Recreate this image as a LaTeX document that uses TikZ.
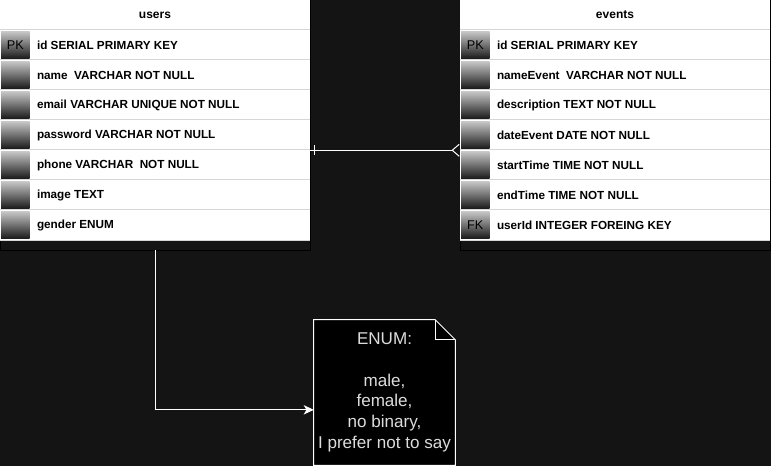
\documentclass[tikz,border=0pt]{standalone}
\usepackage{fontspec}
\setmainfont{Liberation Sans}
\usepackage{tikz}
\usetikzlibrary{arrows.meta, positioning, calc, backgrounds}
\definecolor{canvas}{HTML}{141414}
\definecolor{rowline}{HTML}{D6D6D6}
\definecolor{notetext}{HTML}{DCDCDC}
\tikzstyle{tablebox} = [
    rectangle,
    minimum width = 232.5pt,
    minimum height = 187.5pt,
    draw = black,
    fill = canvas,
]
\tikzstyle{headcell} = [
    rectangle,
    minimum width = 232.5pt,
    minimum height = 22.5pt,
    fill = white,
    text = black,
    font = \fontsize{9}{11}\selectfont\bfseries,
]
\tikzstyle{rowcell} = [
    rectangle,
    minimum width = 232.5pt,
    minimum height = 22.5pt,
    inner sep = 0pt,
    fill = white,
]
\tikzstyle{fieldtext} = [
    anchor = west,
    inner sep = 0pt,
    text = black,
    font = \fontsize{8.8}{11}\selectfont\bfseries,
]
\tikzstyle{keyicon} = [
    rectangle,
    minimum width = 21.5pt,
    minimum height = 20.5pt,
    inner sep = 0pt,
    top color = black!22,
    bottom color = black!90,
    text = black,
    font = \fontsize{9.5}{11}\selectfont,
]
\tikzstyle{sepline} = [draw = rowline, line width = 0.75pt]
\tikzstyle{link} = [draw = white, line width = 0.75pt]
\tikzstyle{notebox} = [
    rectangle,
    minimum width = 105.75pt,
    minimum height = 108.75pt,
    inner xsep = 0.5pt,
    text = notetext,
    align = center,
    font = \fontsize{12.8}{15.5}\selectfont,
]

\begin{document}
\begin{tikzpicture}[x = 0.75pt, y = -0.75pt]
    \begin{pgfonlayer}{background}
        \fill[canvas] (0,0) rectangle (771,466);
    \end{pgfonlayer}
    \useasboundingbox (0,0) rectangle (771,466);

    % users
    \node (users) [tablebox] at (155,125) {};
    \node (users-head) [headcell] at (155,15) {users};
    \foreach \i/\field/\key in {
        1/{id SERIAL PRIMARY KEY}/PK,
        2/{name~ VARCHAR NOT NULL}/{},
        3/{email VARCHAR UNIQUE NOT NULL}/{},
        4/{password VARCHAR NOT NULL}/{},
        5/{phone VARCHAR~ NOT NULL}/{},
        6/{image TEXT}/{},
        7/{gender ENUM}/{}} {
        \node (u\i) [rowcell] at (155,15+30*\i) {};
        \draw[sepline] (u\i.north west) -- (u\i.north east);
        \node (u\i-key) [keyicon, right = 0.75pt of u\i.west] {\key};
        \node (u\i-txt) [fieldtext] at ([xshift = 27.75pt]u\i.west) {\field};
    }
    \draw[sepline] (u7.south west) -- (u7.south east);

    % events
    \node (events) [tablebox] at (615,125) {};
    \node (events-head) [headcell] at (615,15) {events};
    \foreach \i/\field/\key in {
        1/{id SERIAL PRIMARY KEY}/PK,
        2/{nameEvent~ VARCHAR NOT NULL}/{},
        3/{description TEXT NOT NULL}/{},
        4/{dateEvent DATE NOT NULL}/{},
        5/{startTime TIME NOT NULL}/{},
        6/{endTime TIME NOT NULL}/{},
        7/{userId INTEGER FOREING KEY}/FK} {
        \node (e\i) [rowcell] at (615,15+30*\i) {};
        \draw[sepline] (e\i.north west) -- (e\i.north east);
        \node (e\i-key) [keyicon, right = 0.75pt of e\i.west] {\key};
        \node (e\i-txt) [fieldtext] at ([xshift = 27.75pt]e\i.west) {\field};
    }
    \draw[sepline] (e7.south west) -- (e7.south east);

    % enum note
    \node (enum) [notebox] at (384.5,392.5) {ENUM:\\ \\male,\\female,\\no binary,\\I prefer not to say};
    \coordinate (fold-a) at ([xshift = -15pt]enum.north east);
    \coordinate (fold-b) at ([yshift = -15pt]enum.north east);
    \coordinate (enum-in) at ([yshift = -13pt]enum.west);
    \begin{pgfonlayer}{background}
        \filldraw[fill = black, draw = white, line width = 0.75pt]
            (enum.north west) -- (fold-a) -- (fold-b) -- (enum.south east) -- (enum.south west) -- cycle;
        \draw[link] (fold-a) |- (fold-b);
    \end{pgfonlayer}

    % relations
    \draw[link, -{Straight Barb[reversed, length = 5.25pt, width = 9pt]}] (u4.south east) -- (e4.south west);
    \draw[link] ([xshift = 3pt]u4.south east) ++(0,-5) -- ++(0,10);
    \draw[link, -{Stealth[length = 7.5pt, width = 7pt, inset = 2pt]}] (users.south) |- (enum-in);
\end{tikzpicture}
\end{document}
